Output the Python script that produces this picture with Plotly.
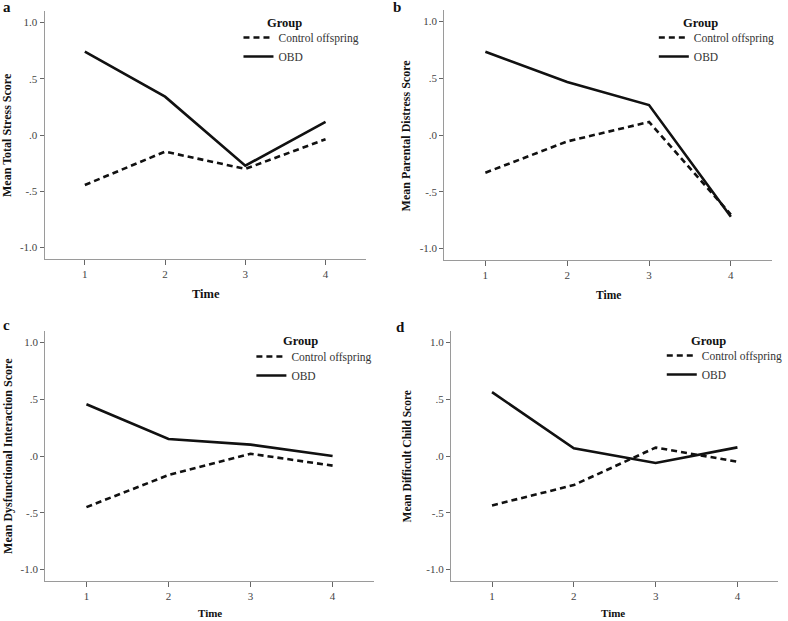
import plotly.graph_objects as go

# ---------------- data ----------------
time_points = [1, 2, 3, 4]
group_names = ["Control offspring", "OBD"]
panel_letters = ["a", "b", "c", "d"]
y_titles = [
    "Mean Total Stress Score",
    "Mean Parental Distress Score",
    "Mean Dysfunctional Interaction Score",
    "Mean Difficult Child Score",
]
control_total_stress = [-0.445, -0.148, -0.302, -0.038]
obd_total_stress = [0.741, 0.341, -0.273, 0.116]
control_parental_distress = [-0.332, -0.056, 0.115, -0.70]
obd_parental_distress = [0.734, 0.467, 0.264, -0.72]
control_dysfunctional = [-0.450, -0.168, 0.020, -0.085]
obd_dysfunctional = [0.456, 0.150, 0.100, 0.000]
control_difficult_child = [-0.435, -0.256, 0.074, -0.050]
obd_difficult_child = [0.562, 0.068, -0.062, 0.076]
y_tick_values = [-1.0, -0.5, 0.0, 0.5, 1.0]
y_tick_labels = ["-1.0", "-.5", ".0", ".5", "1.0"]
x_title = "Time"
legend_title = "Group"

control_series = [control_total_stress, control_parental_distress,
                  control_dysfunctional, control_difficult_child]
obd_series = [obd_total_stress, obd_parental_distress,
              obd_dysfunctional, obd_difficult_child]

# ---------------- layout geometry (pixels) ----------------
W, H = 788, 621
SERIF = "Liberation Serif"
# x0, x1, y_top, y_bottom of each plot area
boxes = [
    (45.0, 368.0, 11.4, 258.6),
    (447.3, 776.7, 10.2, 259.9),
    (45.7, 376.0, 331.1, 580.9),
    (454.0, 783.3, 331.1, 580.9),
]
ytitle_pos = [(7, 135), (409, 135), (8, 456), (410, 456)]
ytitle_size = [12, 12, 12, 11.5]
xtitle_pos = [(207, 294), (612, 295), (211, 613), (617, 613)]
xtitle_size = [12.5, 11.5, 11, 11]
letter_pos = [(7, 7), (400, 7), (7, 325), (403, 327)]
group_pos = [(286.5, 23), (705, 23), (302, 341), (713.5, 341)]
legend_pos = [(240, 23), (658, 23), (253, 342), (666, 341)]

fig = go.Figure()
for i in range(4):
    sfx = "" if i == 0 else str(i + 1)
    leg = "legend" + sfx
    fig.add_trace(go.Scatter(
        x=time_points, y=control_series[i], mode="lines",
        name=group_names[0], xaxis="x" + sfx, yaxis="y" + sfx, legend=leg,
        line=dict(color="#111111", width=2.6, dash="6px,4px"),
    ))
    fig.add_trace(go.Scatter(
        x=time_points, y=obd_series[i], mode="lines",
        name=group_names[1], xaxis="x" + sfx, yaxis="y" + sfx, legend=leg,
        line=dict(color="#111111", width=2.6),
    ))

layout = dict(
    width=W, height=H, margin=dict(l=0, r=0, t=0, b=0),
    paper_bgcolor="white", plot_bgcolor="white",
    font=dict(family=SERIF, color="#222222"),
    annotations=[],
)
axis_common = dict(showgrid=False, zeroline=False, showline=True,
                   linecolor="#9a9a9a", linewidth=1.4, ticks="outside",
                   tickcolor="#666666", ticklen=5, tickwidth=1.2,
                   tickfont=dict(family=SERIF, size=11, color="#444444"))
for i, (x0, x1, yt, yb) in enumerate(boxes):
    sfx = "" if i == 0 else str(i + 1)
    layout["xaxis" + sfx] = dict(
        axis_common, domain=[x0 / W, x1 / W], range=[0.5, 4.5],
        tickvals=time_points, ticktext=[str(t) for t in time_points],
        anchor="y" + sfx,
    )
    layout["yaxis" + sfx] = dict(
        axis_common, domain=[1 - yb / H, 1 - yt / H], range=[-1.1, 1.1],
        tickvals=y_tick_values, ticktext=y_tick_labels, ticklen=4,
        anchor="x" + sfx,
    )
    lx, ly = legend_pos[i]
    layout["legend" + sfx] = dict(
        x=lx / W, y=1 - ly / H, xanchor="left", yanchor="top",
        bgcolor="rgba(0,0,0,0)", borderwidth=0, itemwidth=30,
        font=dict(family=SERIF, size=11.5, color="#333333"),
        tracegroupgap=0,
    )
    gx, gy = group_pos[i]
    layout["annotations"].append(dict(
        text="<b>" + legend_title + "</b>",
        x=gx / W, y=1 - gy / H, xref="paper", yref="paper",
        showarrow=False, xanchor="center", yanchor="middle",
        font=dict(family=SERIF, size=12.5, color="#111111"),
    ))
    tx, ty = ytitle_pos[i]
    layout["annotations"].append(dict(
        text="<b>" + y_titles[i] + "</b>", textangle=-90,
        x=tx / W, y=1 - ty / H, xref="paper", yref="paper",
        showarrow=False, xanchor="center", yanchor="middle",
        font=dict(family=SERIF, size=ytitle_size[i], color="#111111"),
    ))
    xx, xy = xtitle_pos[i]
    layout["annotations"].append(dict(
        text="<b>" + x_title + "</b>",
        x=xx / W, y=1 - xy / H, xref="paper", yref="paper",
        showarrow=False, xanchor="center", yanchor="middle",
        font=dict(family=SERIF, size=xtitle_size[i], color="#111111"),
    ))
    px, py = letter_pos[i]
    layout["annotations"].append(dict(
        text="<b>" + panel_letters[i] + "</b>",
        x=px / W, y=1 - py / H, xref="paper", yref="paper",
        showarrow=False, xanchor="center", yanchor="middle",
        font=dict(family=SERIF, size=15, color="#111111"),
    ))

fig.update_layout(**layout)
fig.write_html("out.html")
